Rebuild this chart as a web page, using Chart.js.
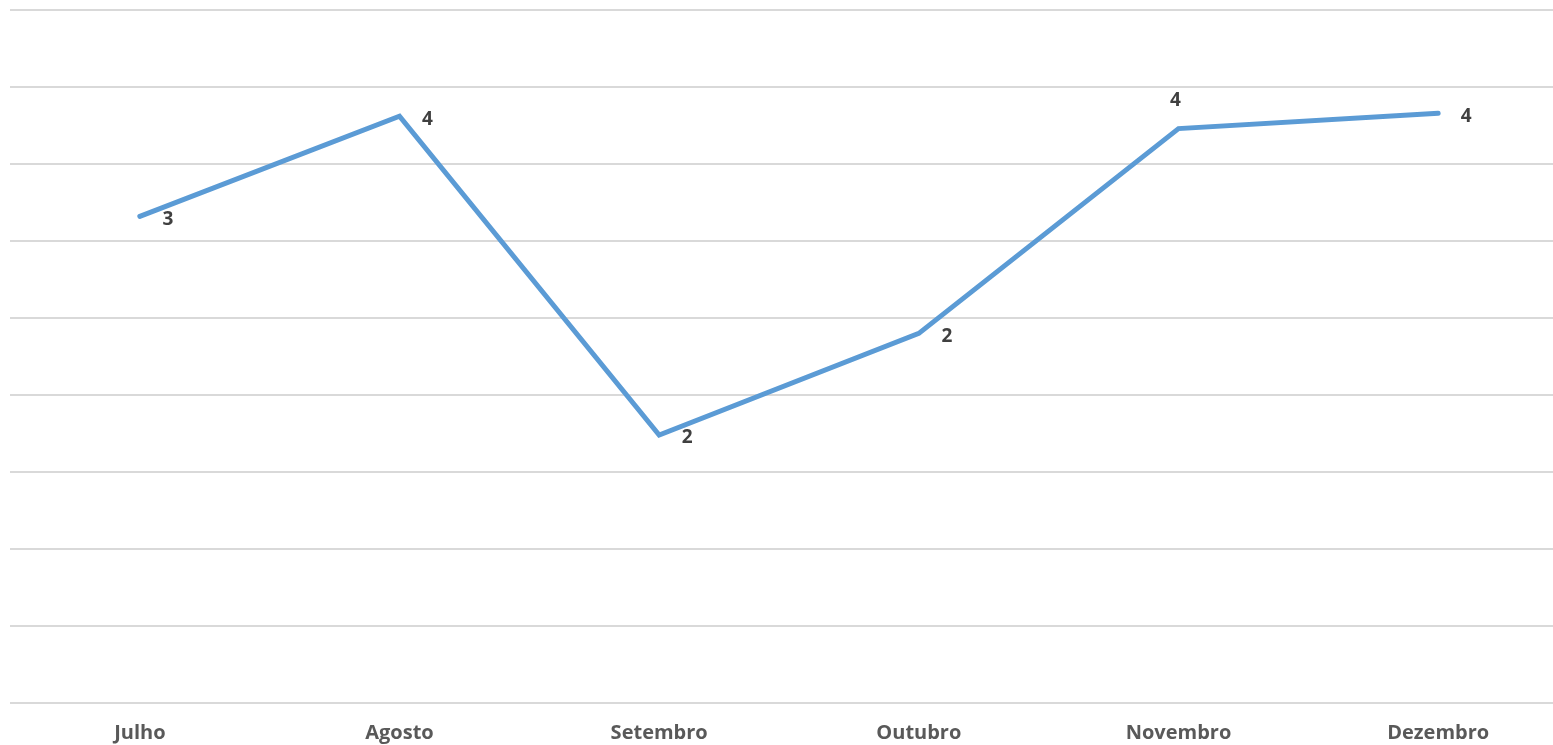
<!DOCTYPE html>
<html>
<head>
<meta charset="utf-8">
<script src="https://cdn.jsdelivr.net/npm/chart.js@4/dist/chart.umd.min.js"></script>
<style>
	html, body { margin:0; padding:0; background:#fff; overflow:hidden; }
	#wrap { width:1568px; height:745px; }
</style>
</head>
<body>
<div id="wrap"><canvas id="chart"></canvas></div>
<script>
// months and values
const months = ['Julho', 'Agosto', 'Setembro', 'Outubro', 'Novembro', 'Dezembro'];
const values = [3.16, 3.81, 1.74, 2.40, 3.73, 3.83];
const labelSides = ['right', 'right', 'right', 'right', 'above', 'right'];

// simple data label plugin (rounded values, Excel style)
const valueLabels = {
	id: 'valueLabels',
	afterDatasetsDraw(chart){
		const ctx = chart.ctx;
		const meta = chart.getDatasetMeta(0);
		ctx.save();
		ctx.font = 'bold 19px "Open Sans", sans-serif';
		ctx.fillStyle = '#404040';
		ctx.textAlign = 'center';
		ctx.textBaseline = 'middle';
		meta.data.forEach((pt, i) => {
			const txt = String(Math.round(values[i]));
			if(labelSides[i] === 'above') ctx.fillText(txt, pt.x - 3, pt.y - 28);
			else ctx.fillText(txt, pt.x + 28, pt.y + 3);
		});
		ctx.restore();
	}
};

new Chart(document.getElementById('chart'), {
	type: 'line',
	data: {
		labels: months,
		datasets: [{
			data: values,
			borderColor: '#5B9BD5',
			borderWidth: 5,
			borderCapStyle: 'round',
			borderJoinStyle: 'miter',
			pointRadius: 0,
			tension: 0,
			fill: false
		}]
	},
	options: {
		responsive: true,
		maintainAspectRatio: false,
		animation: false,
		layout: { padding: { left: 10, right: 0, top: 10, bottom: 0 } },
		plugins: { legend: { display:false }, tooltip: { enabled:false } },
		scales: {
			x: {
				offset: true,
				grid: { display:false, drawTicks:false },
				border: { display:false },
				afterFit(scale){ scale.height = 42; },
				ticks: {
					color: '#595959',
					font: { family:'"Open Sans", sans-serif', size:20, weight:'bold', lineHeight:1.2 },
					padding: 18
				}
			},
			y: {
				min: 0, max: 4.5,
				grid: { color:'#d9d9d9', lineWidth:2, drawTicks:false },
				border: { display:false },
				ticks: { display:false, stepSize:0.5 }
			}
		}
	},
	plugins: [valueLabels]
});
</script>
</body>
</html>
